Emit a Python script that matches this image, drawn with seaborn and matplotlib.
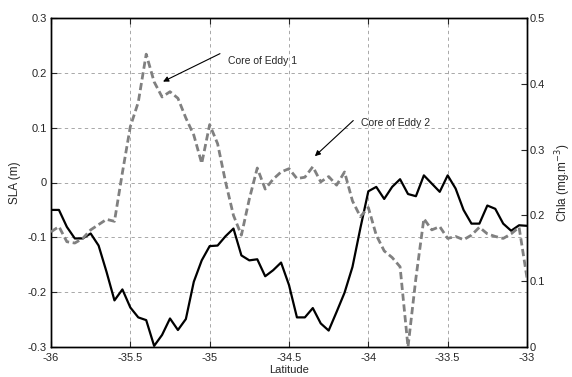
import matplotlib
matplotlib.use("Agg")
import matplotlib.pyplot as plt
import numpy as np
import seaborn as sns

# latitude grid (0.05 deg steps)
lat = np.linspace(-36, -33, 61)

# sea level anomaly (m), solid black
sla = [
    -0.050, -0.050, -0.081, -0.102, -0.102, -0.093, -0.115, -0.163, -0.215, -0.195,
    -0.228, -0.246, -0.251, -0.298, -0.278, -0.248, -0.269, -0.249, -0.181, -0.142,
    -0.116, -0.115, -0.098, -0.084, -0.133, -0.142, -0.140, -0.171, -0.160, -0.146,
    -0.187, -0.246, -0.246, -0.229, -0.257, -0.270, -0.236, -0.201, -0.154, -0.083,
    -0.016, -0.008, -0.030, -0.008, 0.006, -0.021, -0.025, 0.013, -0.002, -0.017,
    0.013, -0.011, -0.050, -0.075, -0.075, -0.042, -0.048, -0.075, -0.088, -0.078,
    -0.079,
]

# chlorophyll a (mg.m-3), dashed grey
chla = [
    0.175, 0.183, 0.160, 0.158, 0.165, 0.178, 0.186, 0.194, 0.191, 0.265,
    0.335, 0.372, 0.445, 0.403, 0.380, 0.388, 0.378, 0.348, 0.322, 0.279,
    0.338, 0.309, 0.251, 0.200, 0.170, 0.225, 0.272, 0.240, 0.255, 0.266,
    0.271, 0.256, 0.258, 0.274, 0.251, 0.259, 0.246, 0.266, 0.222, 0.198,
    0.212, 0.170, 0.146, 0.136, 0.122, 0.000, 0.105, 0.195, 0.178, 0.183,
    0.165, 0.168, 0.163, 0.170, 0.182, 0.172, 0.168, 0.165, 0.172, 0.182,
    0.105,
]

x_ticks = [-36, -35.5, -35, -34.5, -34, -33.5, -33]
x_labels = ["-36", "-35.5", "-35", "-34.5", "-34", "-33.5", "-33"]
sla_ticks = [-0.3, -0.2, -0.1, 0, 0.1, 0.2, 0.3]
sla_labels = ["-0.3", "-0.2", "-0.1", "0", "0.1", "0.2", "0.3"]
chla_ticks = [0, 0.1, 0.2, 0.3, 0.4, 0.5]
chla_labels = ["0", "0.1", "0.2", "0.3", "0.4", "0.5"]

sns.set_style("white")
plt.rcParams["font.family"] = ["Liberation Sans", "DejaVu Sans"]
plt.rcParams["font.size"] = 8

fig = plt.figure(figsize=(5.72, 3.77), dpi=100)
ax = fig.add_axes([51 / 572, 30 / 377, 476 / 572, 329 / 377])
ax2 = ax.twinx()

sns.lineplot(x=lat, y=sla, ax=ax, color="black", lw=1.6, zorder=3)
sns.lineplot(x=lat, y=chla, ax=ax2, color="#808080", lw=2.0,
             linestyle=(0, (2.6, 1.3)), zorder=3)

ax.set_xlim(-36, -33)
ax.set_ylim(-0.3, 0.3)
ax2.set_ylim(0, 0.5)

ax.set_xticks(x_ticks)
ax.set_xticklabels(x_labels)
ax.set_yticks(sla_ticks)
ax.set_yticklabels(sla_labels)
ax2.set_yticks(chla_ticks)
ax2.set_yticklabels(chla_labels)

ax.grid(True, color="#9a9a9a", linestyle=(0, (4, 4)), lw=0.6)
ax.set_axisbelow(True)
ax.tick_params(axis="x", direction="in", length=4, width=0.8, labelsize=8,
               pad=4, top=True, bottom=True)
ax.tick_params(axis="y", direction="in", length=4, width=0.8, labelsize=8,
               pad=3, left=True)
ax2.tick_params(direction="in", length=4, width=0.8, labelsize=8, pad=2)

for a in (ax, ax2):
    for s in a.spines.values():
        s.set_color("black")
        s.set_linewidth(1.0)

ax.set_xlabel("Latitude", fontsize=8, labelpad=2)
ax.set_ylabel("SLA (m)", fontsize=8.5, labelpad=5)
ax2.set_ylabel("Chla (mg.m$^{-3}$)", fontsize=8.5, labelpad=6)

# annotations: arrows and labels
arrow = dict(arrowstyle="-|>", color="black", lw=0.8, mutation_scale=8,
             shrinkA=0, shrinkB=0)
ax.annotate("", xy=(-35.294, 0.184), xytext=(-34.935, 0.235), arrowprops=arrow)
ax.text(-34.885, 0.222, "Core of Eddy 1", fontsize=7.5, va="center", ha="left")
ax.annotate("", xy=(-34.337, 0.048), xytext=(-34.095, 0.113), arrowprops=arrow)
ax.text(-34.045, 0.108, "Core of Eddy 2", fontsize=7.5, va="center", ha="left")

fig.savefig("out.png", dpi=100)
